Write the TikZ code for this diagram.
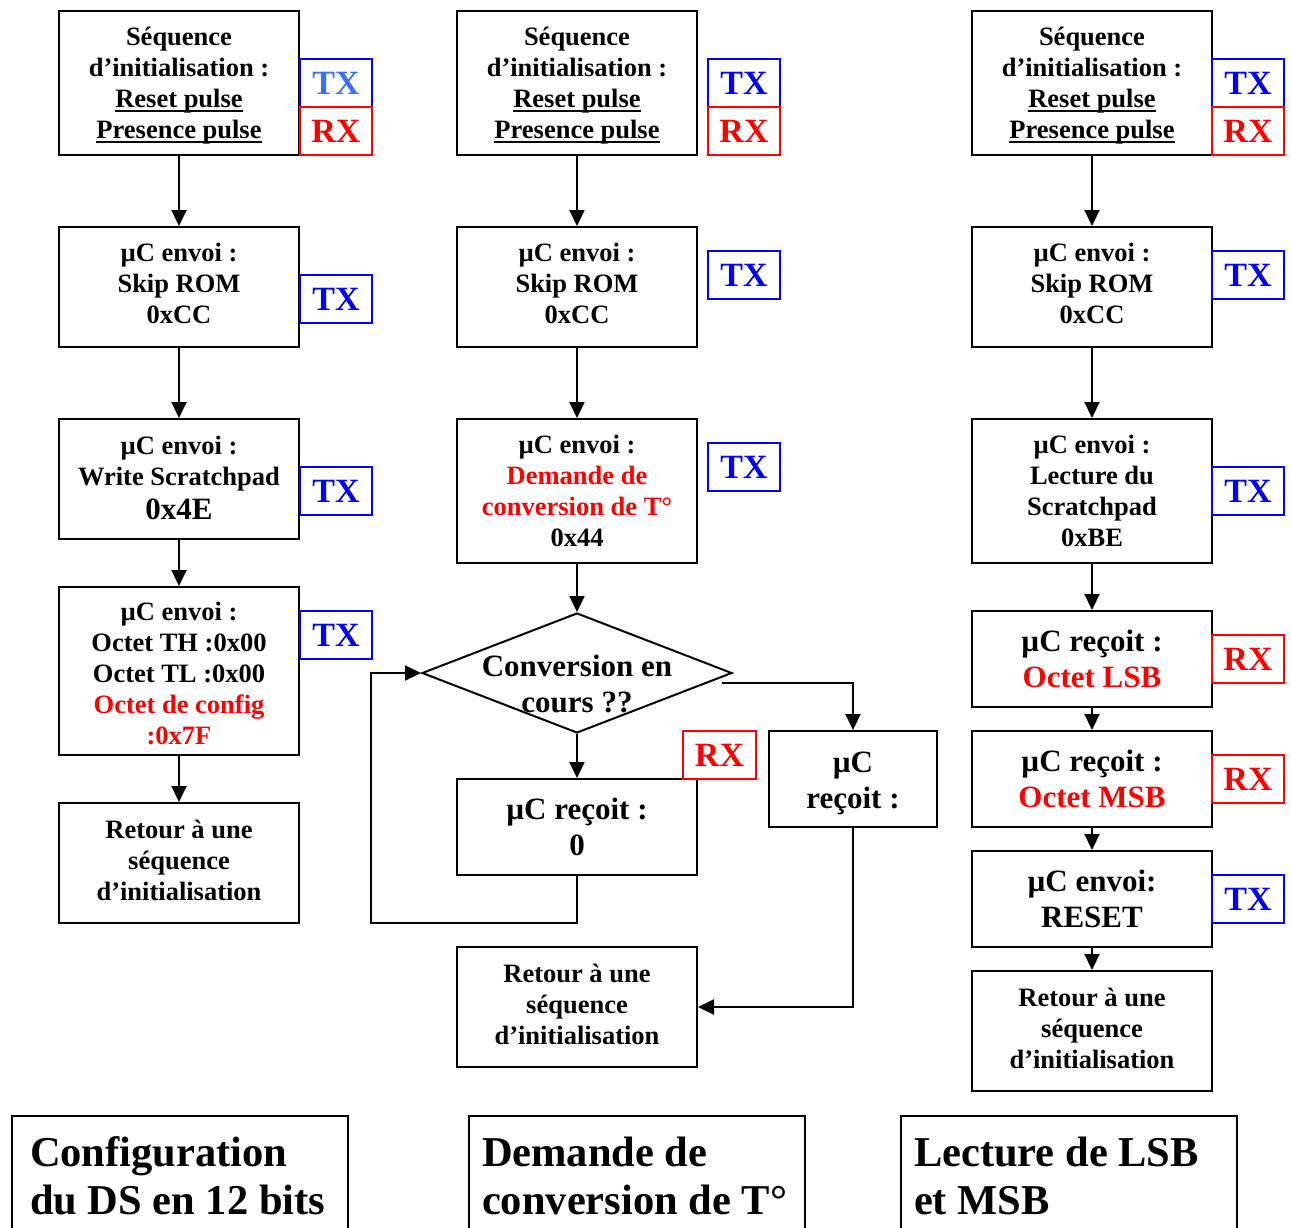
\documentclass[tikz,border=0pt]{standalone}
\usepackage{fontspec}
\setmainfont{Liberation Serif}
\usetikzlibrary{arrows.meta,shapes.geometric}
\definecolor{tagblue}{RGB}{0,0,255}
\definecolor{tagred}{RGB}{255,0,0}
\definecolor{lightblue}{RGB}{60,110,255}
\newcommand{\bigline}[1]{{\fontsize{31}{36}\selectfont #1}}
\newsavebox{\ulinebox}
\newcommand{\ulin}[1]{\sbox{\ulinebox}{#1}\rlap{\rule[-4.5pt]{\wd\ulinebox}{2pt}}\usebox{\ulinebox}}
\newcommand{\dn}[1]{\rule[-#1]{0pt}{#1}}
\newcommand{\up}[1]{\rule{0pt}{#1}}
\begin{document}
\begin{tikzpicture}[x=1pt,y=-1pt, line width=2pt,
  box/.style={draw, rectangle, inner sep=0pt, minimum width=240pt, align=center,
    font=\fontsize{26.5}{31}\selectfont\bfseries},
  bigbox/.style={box, font=\fontsize{31}{36.5}\selectfont\bfseries},
  tag/.style={draw, rectangle, inner sep=0pt, minimum width=72pt, minimum height=48pt,
    font=\fontsize{34}{40}\selectfont\bfseries},
  txtag/.style={tag, draw=tagblue, text=tagblue},
  rxtag/.style={tag, draw=tagred, text=tagred},
  title/.style={anchor=base west, inner sep=0pt, font=\fontsize{42.5}{48}\selectfont\bfseries},
  arr/.style={-{Triangle[length=16pt,width=15pt]}},
]
\useasboundingbox (0,0) rectangle (1291,1227);

% ---------------- Column 1 ----------------
\node[box, minimum height=144pt] (b11) at (179,83)
  {\up{24pt}Séquence\\d’initialisation :\\\ulin{Reset pulse}\\\ulin{Presence pulse}};
\node[box, minimum height=120pt] (b12) at (179,287) {µC envoi :\\Skip ROM\\0xCC\dn{8pt}};
\node[box, minimum height=120pt] (b13) at (179,479) {µC envoi :\\Write Scratchpad\\[3pt]\bigline{0x4E}\dn{3pt}};
\node[box, minimum height=168pt] (b14) at (179,671)
  {\up{24pt}µC envoi :\\Octet TH :0x00\\Octet TL :0x00\\\textcolor{tagred}{Octet de config}\\\textcolor{tagred}{:0x7F}};
\node[box, minimum height=120pt] (b15) at (179,863) {Retour à une\\séquence\\d’initialisation\dn{6pt}};

\node[txtag, text=lightblue] (t11) at (336,83) {TX};
\node[rxtag] (r11) at (336,131) {RX};
\node[txtag] (t12) at (336,299) {TX};
\node[txtag] (t13) at (336,491) {TX};
\node[txtag] (t14) at (336,635) {TX};

\draw[arr] (b11) -- (b12);
\draw[arr] (b12) -- (b13);
\draw[arr] (b13) -- (b14);
\draw[arr] (b14) -- (b15);

% ---------------- Column 2 ----------------
\node[box, minimum height=144pt] (b21) at (577,83)
  {\up{24pt}Séquence\\d’initialisation :\\\ulin{Reset pulse}\\\ulin{Presence pulse}};
\node[box, minimum height=120pt] (b22) at (577,287) {µC envoi :\\Skip ROM\\0xCC\dn{8pt}};
\node[box, minimum height=144pt] (b23) at (577,491)
  {µC envoi :\\\textcolor{tagred}{Demande de}\\\textcolor{tagred}{conversion de T°}\\0x44};
\node[draw, diamond, minimum width=310pt, minimum height=120pt, inner sep=0pt] (d) at (577,673) {};
\node[inner sep=0pt, align=center, font=\fontsize{31}{36}\selectfont\bfseries] (dtext) at (577,684)
  {Conversion en\\cours ??};
\node[bigbox, minimum height=96pt] (r0) at (577,827) {µC reçoit :\\0};
\node[bigbox, minimum width=168pt, minimum height=96pt] (rr) at (853,779) {\up{29pt}µC\\reçoit :};
\node[box, minimum height=120pt] (ret2) at (577,1007) {Retour à une\\séquence\\d’initialisation\dn{6pt}};

\node[txtag] (t21) at (744,83) {TX};
\node[rxtag] (r21) at (744,131) {RX};
\node[txtag] (t22) at (744,275) {TX};
\node[txtag] (t23) at (744,467) {TX};
\node[rxtag, minimum width=73pt] (rx0) at (719.5,755) {RX};

\coordinate (dout) at ([xshift=-11pt,yshift=-10pt]d.east);
\coordinate (loopx) at ([xshift=-50pt]d.west);

\draw[arr] (b21) -- (b22);
\draw[arr] (b22) -- (b23);
\draw[arr] (b23) -- (d.north);
\draw[arr] (d.south) -- (r0.north);
\draw[arr] (r0.south) -- ++(0,47) -| (loopx) -- (d.west);
\draw[arr] (dout) -| (rr.north);
\draw[arr] (rr.south) |- (ret2.east);

% ---------------- Column 3 ----------------
\node[box, minimum height=144pt] (b31) at (1092,83)
  {\up{24pt}Séquence\\d’initialisation :\\\ulin{Reset pulse}\\\ulin{Presence pulse}};
\node[box, minimum height=120pt] (b32) at (1092,287) {µC envoi :\\Skip ROM\\0xCC\dn{8pt}};
\node[box, minimum height=144pt] (b33) at (1092,491) {µC envoi :\\Lecture du\\Scratchpad\\0xBE};
\node[bigbox, minimum height=96pt] (b34) at (1092,659) {µC reçoit :\\\textcolor{tagred}{Octet LSB}};
\node[bigbox, minimum height=96pt] (b35) at (1092,779) {µC reçoit :\\\textcolor{tagred}{Octet MSB}};
\node[bigbox, minimum height=96pt] (b36) at (1092,899) {µC envoi:\\RESET};
\node[box, minimum height=120pt] (b37) at (1092,1031) {Retour à une\\séquence\\d’initialisation\dn{6pt}};

\node[txtag] (t31) at (1248,83) {TX};
\node[rxtag] (r31) at (1248,131) {RX};
\node[txtag] (t32) at (1248,275) {TX};
\node[txtag] (t33) at (1248,491) {TX};
\node[rxtag] (r34) at (1248,659) {RX};
\node[rxtag] (r35) at (1248,779) {RX};
\node[txtag] (t36) at (1248,899) {TX};

\draw[arr] (b31) -- (b32);
\draw[arr] (b32) -- (b33);
\draw[arr] (b33) -- (b34);
\draw[arr] (b34) -- (b35);
\draw[arr] (b35) -- (b36);
\draw[arr] (b36) -- (b37);

% ---------------- Titles ----------------
\begin{scope}
\clip (0,0) rectangle (1291,1227);
\node[draw, rectangle, inner sep=0pt, minimum width=336pt, minimum height=140pt, anchor=north west] (L1) at (11,1115) {};
\node[draw, rectangle, inner sep=0pt, minimum width=336pt, minimum height=140pt, anchor=north west] (L2) at (468,1115) {};
\node[draw, rectangle, inner sep=0pt, minimum width=336pt, minimum height=140pt, anchor=north west] (L3) at (900,1115) {};
\end{scope}
\node[title] (l1a) at (29,1166) {Configuration};
\node[title] (l1b) at (29,1214) {du DS en 12 bits};
\node[title] (l2a) at (481,1166) {Demande de};
\node[title] (l2b) at (481,1214) {conversion de T°};
\node[title] (l3a) at (913,1166) {Lecture de LSB};
\node[title] (l3b) at (913,1214) {et MSB};
\end{tikzpicture}
\end{document}
